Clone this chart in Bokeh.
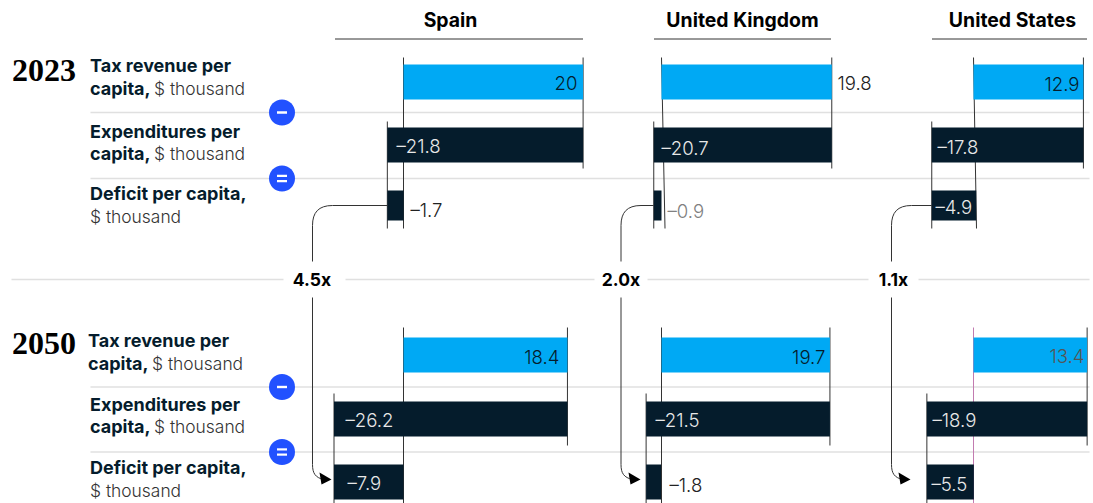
from bokeh.plotting import figure
from bokeh.embed import file_html
from bokeh.resources import INLINE
from bokeh.core.properties import value
from bokeh.models import Range1d

# ---- data ----
countries = ["Spain", "United Kingdom", "United States"]
years = ["2023", "2050"]
revenue_2023 = [20, 19.8, 12.9]
spend_2023 = [-21.8, -20.7, -17.8]
deficit_2023 = [-1.7, -0.9, -4.9]
revenue_2050 = [18.4, 19.7, 13.4]
spend_2050 = [-26.2, -21.5, -18.9]
deficit_2050 = [-7.9, -1.8, -5.5]
multiples = ["4.5x", "2.0x", "1.1x"]

# ---- layout ----
W, H = 1093, 503
DARK, BLUE, CIRC, GRID, INK = "#051c2c", "#00a9f4", "#2251ff", "#e0e0e0", "#333333"
LIGHT = "Inter Light, Inter"
origin = [403, 661, 973]
scale_2023 = [8.98, 8.6, 8.52]
scale_2050 = [8.91, 8.55, 8.48]
dscale_2023 = [9.6, 8.6, 9.08]
dscale_2050 = [8.8, 8.3, 8.55]
conn_x = [312, 620.5, 891]
arrow_tip = [331, 640, 910]
header_x = [(334.5, 582.5), (653.5, 830.5), (931.5, 1086.5)]
header_c = [450, 742, 1012]
mult_c = [311.5, 620.5, 893]
mult_gap = [(283, 345), (594, 647), (868, 918)]
rows = {
    "2023": dict(rev=(64, 99), exp=(127, 162), dfc=(190, 220), top=57, mid=121, bot=168, low=228),
    "2050": dict(rev=(337, 372), exp=(401, 436), dfc=(464, 499), top=327, mid=393, bot=445, low=505),
}
origin_slant = {"2023": [0, 3.5, 3], "2050": [0, 0, 0]}

p = figure(width=W, height=H, x_range=Range1d(0, W), y_range=Range1d(H, 0),
           output_backend="svg", toolbar_location=None, min_border=0,
           x_axis_location=None, y_axis_location=None, outline_line_color=None,
           background_fill_color="white", border_fill_color="white")
p.grid.visible = False

# grid rules
for y, x0 in [(112, 90), (178, 90), (279, 11), (386.5, 90), (451.5, 90)]:
    p.line([x0, 1089], [y, y], line_color=GRID, line_width=1.4)
p.quad(left=[g[0] for g in mult_gap], right=[g[1] for g in mult_gap],
       top=[270] * 3, bottom=[288] * 3, fill_color="white", line_color=None)

# header rules
for (a, b) in header_x:
    p.line([a, b], [38.5, 38.5], line_color=INK, line_width=1)

# guide lines first, then the bars on top of them
def panel(yr, rev, exp, dfc, scale, dscale):
    g = rows[yr]
    for i in range(3):
        o, k = origin[i], scale[i]
        right = o + rev[i] * k
        left = right + exp[i] * k
        dright = left - dfc[i] * dscale[i]
        col = "#c27bb0" if (yr == "2050" and i == 2) else INK
        p.line([o, o + origin_slant[yr][i]], [g["top"], g["low"]], line_color=col, line_width=1)
        p.line([left, left], [g["mid"], g["low"]], line_color=INK, line_width=1)
        p.line([right, right], [g["top"], g["bot"]], line_color=INK, line_width=1)
        p.quad(left=[o], right=[right], top=[g["rev"][0]], bottom=[g["rev"][1]], fill_color=BLUE, line_color=None)
        p.quad(left=[left], right=[right], top=[g["exp"][0]], bottom=[g["exp"][1]], fill_color=DARK, line_color=None)
        p.quad(left=[left], right=[dright], top=[g["dfc"][0]], bottom=[g["dfc"][1]], fill_color=DARK, line_color=None)

panel("2023", revenue_2023, spend_2023, deficit_2023, scale_2023, dscale_2023)
panel("2050", revenue_2050, spend_2050, deficit_2050, scale_2050, dscale_2050)

# connectors
for i in range(3):
    cx = conn_x[i]
    left = origin[i] + (revenue_2023[i] + spend_2023[i]) * scale_2023[i]
    p.line([left, cx + 20], [205, 205], line_color=INK, line_width=1)
    p.bezier(x0=[cx + 20], y0=[205], x1=[cx], y1=[225], cx0=[cx + 6], cy0=[205], cx1=[cx], cy1=[212], line_color=INK, line_width=1)
    p.line([cx, cx], [225, 261], line_color=INK, line_width=1)
    p.line([cx, cx], [297, 464], line_color=INK, line_width=1)
    t = arrow_tip[i]
    p.bezier(x0=[cx], y0=[464], x1=[t - 8], y1=[479], cx0=[cx], cy0=[473], cx1=[cx + 3], cy1=[477], line_color=INK, line_width=1)
    p.patch([t, t - 12, t - 10], [479, 472, 484], fill_color="#000000", line_color=None)

# operators
p.circle(x=[281.5] * 4, y=[112, 178, 386.5, 451.5], radius=13, fill_color=CIRC, line_color=None)
p.rect(x=[281.5], y=[112], width=10, height=2.4, fill_color="white", line_color=None)
p.rect(x=[281.5], y=[386.5], width=10, height=2.4, fill_color="white", line_color=None)
for yc in (178, 451.5):
    p.rect(x=[281.5, 281.5], y=[yc - 2.6, yc + 2.6], width=10, height=2.2, fill_color="white", line_color=None)

def txt(x, y, s, size=17, bold=False, color=DARK, align="left", font=LIGHT):
    p.text(x=[x], y=[y - 1], text=[s], text_font=value(font), text_font_size=f"{size}px",
           text_font_style="bold" if bold else "normal", text_color=color,
           text_align=align, text_baseline="middle")

def lbl(n):
    return ("\u2013" + str(abs(n))) if n < 0 else str(n)

# headers, years, multiples
for i, c in enumerate(countries):
    txt(header_c[i], 20, c, 19.4, True, "#000000", "center", "Inter")
    txt(mult_c[i], 280, multiples[i], 17.5, True, "#000000", "center", "Inter")
txt(11.5, 71, years[0], 32, True, "#000000", font="Liberation Serif")
txt(11.5, 344, years[1], 32, True, "#000000", font="Liberation Serif")

# row labels
B, R = 18, 17.4
def rb(x, y, s):
    txt(x, y, s, B, True, font="Inter")
def rr(x, y):
    txt(x, y, "$ thousand", R, False, "#333")
rb(89.5, 66, "Tax revenue per"); rb(89.5, 89, "capita,"); rr(153.5, 89)
rb(89.5, 132, "Expenditures per"); rb(89.5, 154, "capita,"); rr(153.5, 154)
rb(89.5, 194, "Deficit per capita,"); rr(89.5, 217)
rb(87.5, 341, "Tax revenue per"); rb(87.5, 364, "capita,"); rr(151.5, 364)
rb(89.5, 405, "Expenditures per"); rb(89.5, 427, "capita,"); rr(153.5, 427)
rb(89.5, 468, "Deficit per capita,"); rr(89.5, 491)

# value labels
V = 18.6
txt(577, 83, lbl(revenue_2023[0]), V, align="right")
txt(837, 83, lbl(revenue_2023[1]), V, color="#222")
txt(1079, 84, lbl(revenue_2023[2]), V, align="right")
txt(396, 146, lbl(spend_2023[0]), V, color="#e8e8e8")
txt(661, 148, lbl(spend_2023[1]), V, color="#e8e8e8")
txt(937, 147, lbl(spend_2023[2]), V, color="#e8e8e8")
txt(410, 210, lbl(deficit_2023[0]), V, color="#222")
txt(667, 211, lbl(deficit_2023[1]), V, color="#808080")
txt(935, 207, lbl(deficit_2023[2]), V, color="#e8e8e8")
txt(559, 357, lbl(revenue_2050[0]), V, align="right")
txt(825, 357, lbl(revenue_2050[1]), V, align="right")
txt(1084, 356, lbl(revenue_2050[2]), V, color="#555555", align="right")
txt(345, 420, lbl(spend_2050[0]), V, color="#e8e8e8")
txt(655, 420, lbl(spend_2050[1]), V, color="#e8e8e8")
txt(932, 420, lbl(spend_2050[2]), V, color="#e8e8e8")
txt(347, 483, lbl(deficit_2050[0]), V, color="#e8e8e8")
txt(669, 485, lbl(deficit_2050[1]), V, color="#222")
txt(931, 484, lbl(deficit_2050[2]), V, color="#e8e8e8")

html = file_html(p, INLINE).replace("<body>", '<body style="margin:0;overflow:hidden">')
open("out.html", "w").write(html)
